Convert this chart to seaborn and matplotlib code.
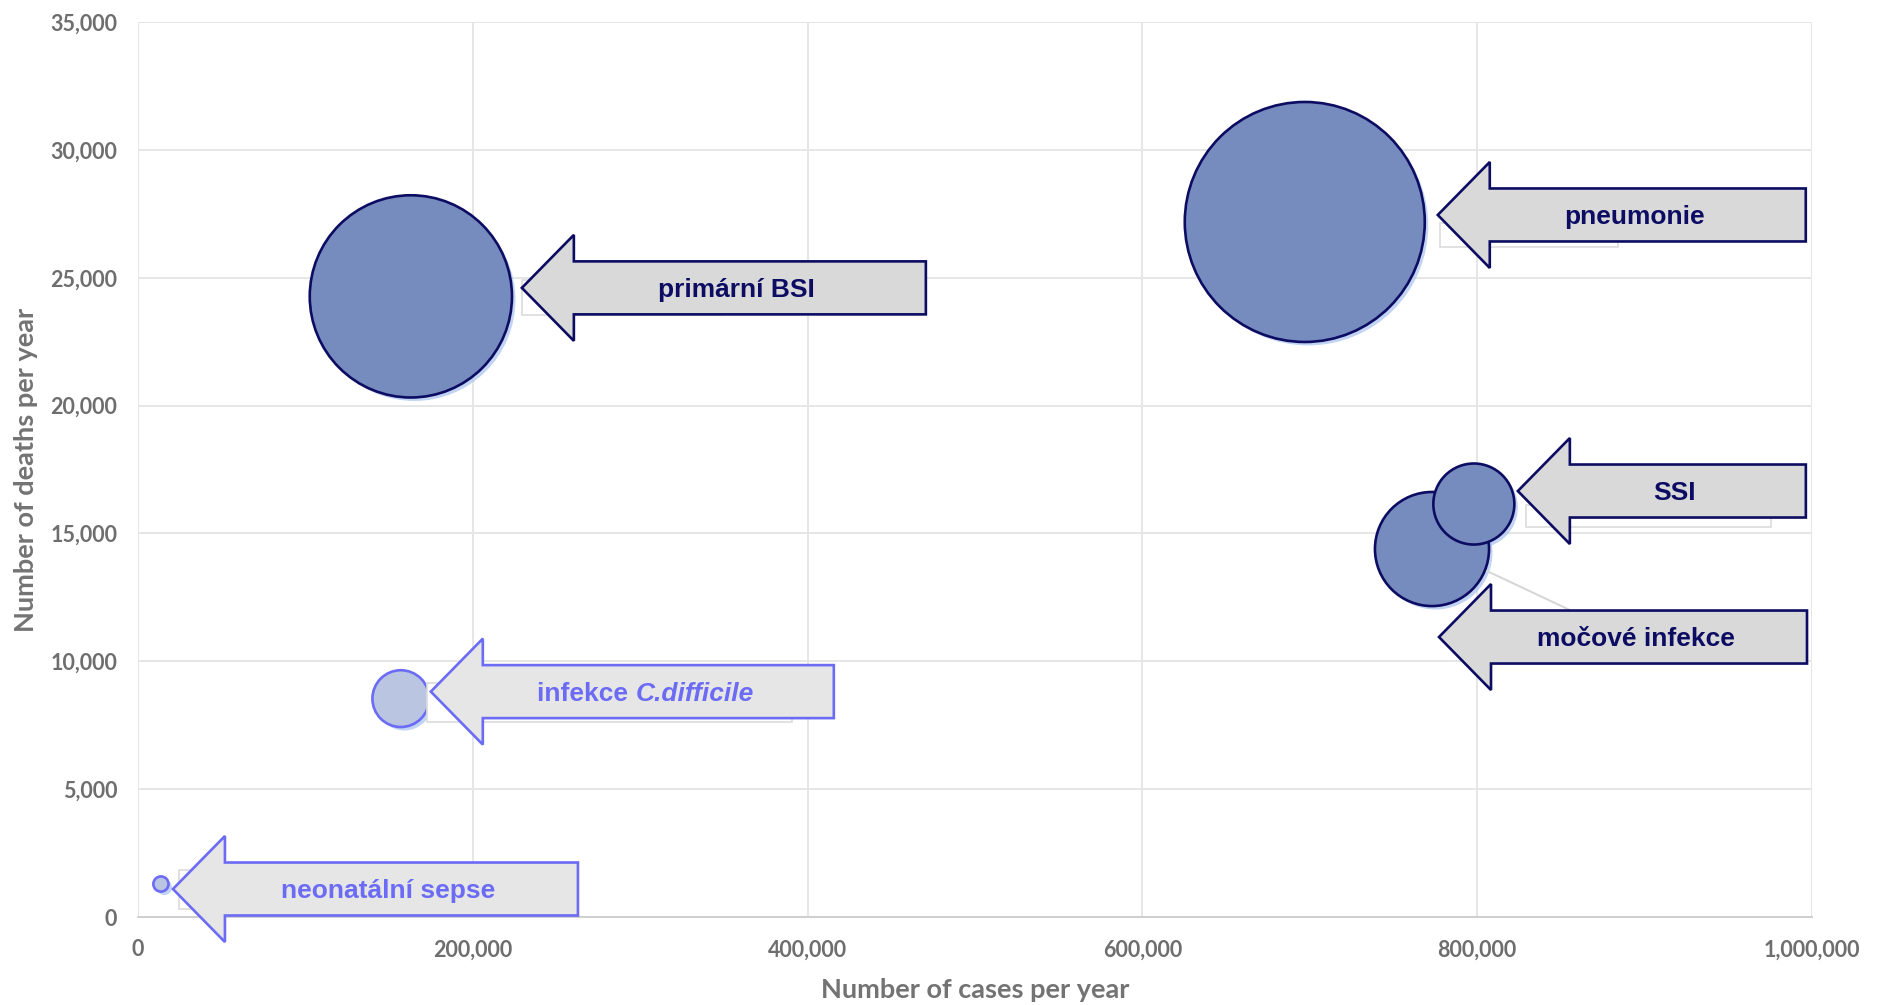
import matplotlib
matplotlib.use("Agg")
import matplotlib.pyplot as plt
import matplotlib.patheffects as pe
import numpy as np
import pandas as pd
import seaborn as sns
from matplotlib import font_manager
from matplotlib.lines import Line2D
from matplotlib.patches import Polygon, Rectangle
from matplotlib.ticker import FuncFormatter
from matplotlib.transforms import IdentityTransform

# ---- data -------------------------------------------------------------
infections = ["pneumonie", "primární BSI", "močové infekce", "SSI",
              "infekce C.difficile", "neonatální sepse"]
cases_per_year = [697000, 163000, 773000, 798000, 157000, 13700]
deaths_per_year = [27180, 24270, 14390, 16150, 8540, 1290]
burden = [100, 71, 22.6, 11.4, 5.6, 0.4]          # bubble area
tone = ["dark", "dark", "dark", "dark", "light", "light"]

x_ticks = [0, 200000, 400000, 600000, 800000, 1000000]
y_ticks = [0, 5000, 10000, 15000, 20000, 25000, 30000, 35000]

# ---- label arrows: tip offset from bubble centre (px, up positive) and length
arrow_dx = [133, 111, 7, 44, 30, 12]
arrow_dy = [7, 8.5, -88, 13, 7, -5]
arrow_len = [368, 404, 368, 288, 403, 405]
# faint default data-label frames left behind the arrows (px, relative to tip)
frame_box = [(2, -32, 178, 24), (0, -27, 200, 35), None,
             (8, -36, 245, 22), (-4, -30, 365, 39), (6, -20, 200, 39)]

df = pd.DataFrame({"infection": infections, "cases": cases_per_year,
                   "deaths": deaths_per_year, "burden": burden, "tone": tone})

# ---- style ------------------------------------------------------------
sns.set_theme(style="whitegrid")
names = {f.name for f in font_manager.fontManager.ttflist}
label_font = "Liberation Sans" if "Liberation Sans" in names else "DejaVu Sans"
axis_font = "Lato" if "Lato" in names else "DejaVu Sans"
plt.rcParams["font.family"] = [axis_font, "DejaVu Sans"]

palette = {
    "dark": dict(face="#778CBE", edge="#0C0C63", arrow="#D9D9D9", text="#0C0C63"),
    "light": dict(face="#BAC5E1", edge="#6B6BF5", arrow="#E6E6E6", text="#6B6BF5"),
}

W, H, DPI = 1878, 1005, 100
fig = plt.figure(figsize=(W / DPI, H / DPI), dpi=DPI)
ax = fig.add_axes([138 / W, 88 / H, 1674 / W, 895 / H])

S_MAX = (2 * 120 * 72 / DPI) ** 2
for key in ["dark", "light"]:
    sub = df[df["tone"] == key]
    sns.scatterplot(data=sub, x="cases", y="deaths", size="burden",
                    sizes=(0, S_MAX), size_norm=(0, 100), legend=False,
                    color=palette[key]["face"], edgecolor=palette[key]["edge"],
                    linewidth=1.9, alpha=1, ax=ax, zorder=3)

for coll in ax.collections:
    coll.set_path_effects([pe.SimplePatchShadow(offset=(2.5, -2.5),
                                                shadow_rgbFace="#A9C3EE",
                                                alpha=0.7), pe.Normal()])

ax.set_xlim(0, 1000000)
ax.set_ylim(0, 35000)
ax.set_xticks(x_ticks)
ax.set_yticks(y_ticks)
fmt = FuncFormatter(lambda v, p: f"{int(v):,}")
ax.xaxis.set_major_formatter(fmt)
ax.yaxis.set_major_formatter(fmt)
ax.tick_params(axis="both", length=0, labelsize=15.5, labelcolor="#6E6E6E")
ax.tick_params(axis="x", pad=16)
ax.tick_params(axis="y", pad=15)
for lab in ax.get_xticklabels() + ax.get_yticklabels():
    lab.set_fontweight("bold")
ax.grid(True, color="#E6E6E6", linewidth=1.4)
for side in ["top", "right", "left"]:
    ax.spines[side].set_visible(False)
ax.spines["bottom"].set_color("#CFCFCF")
ax.spines["bottom"].set_linewidth(1.4)
ax.set_xlabel("Number of cases per year", fontsize=19.5, fontweight="bold",
              color="#737373", labelpad=13)
ax.set_ylabel("Number of deaths per year", fontsize=19.5, fontweight="bold",
              color="#737373", labelpad=9)

# ---- arrow-shaped labels ------------------------------------------------
renderer = fig.canvas.get_renderer()
HEAD_L, HEAD_H, SHAFT_H = 52, 53, 26.5
for i, row in df.iterrows():
    colors = palette[row["tone"]]
    cx, cy = ax.transData.transform((row["cases"], row["deaths"]))
    tx, ty = cx + arrow_dx[i], cy + arrow_dy[i]
    L = arrow_len[i]

    if frame_box[i] is not None:
        fx, fy, fw, fh = frame_box[i]
        fig.add_artist(Rectangle((tx + fx, ty + fy), fw, fh,
                                 transform=IdentityTransform(), facecolor="white",
                                 edgecolor="#DCDCDC", linewidth=1.2, zorder=4))
    else:
        # leader line from the bubble towards its label
        fig.add_artist(Line2D([cx + 55, cx + 140], [cy - 22, cy - 62],
                              transform=IdentityTransform(), color="#D5D5D5",
                              linewidth=1.4, zorder=4))

    pts = [(tx, ty), (tx + HEAD_L, ty + HEAD_H), (tx + HEAD_L, ty + SHAFT_H),
           (tx + L, ty + SHAFT_H), (tx + L, ty - SHAFT_H),
           (tx + HEAD_L, ty - SHAFT_H), (tx + HEAD_L, ty - HEAD_H)]
    fig.add_artist(Polygon(pts, closed=True, transform=IdentityTransform(),
                           facecolor=colors["arrow"], edgecolor=colors["edge"],
                           linewidth=1.9, joinstyle="miter", zorder=5))
    xc = tx + HEAD_L + (L - HEAD_L) / 2 - 13
    yc = ty - 2
    name = row["infection"]
    kw = dict(transform=IdentityTransform(), fontsize=19, fontweight="bold",
              color=colors["text"], family=[label_font, "DejaVu Sans"],
              va="center", zorder=6)
    if "C.difficile" in name:
        head, tail = "infekce ", "C.difficile"
        t1 = fig.text(0, yc, head, ha="left", **kw)
        t2 = fig.text(0, yc, tail, ha="left", style="italic", **kw)
        w1 = t1.get_window_extent(renderer).width
        w2 = t2.get_window_extent(renderer).width
        x0 = xc - (w1 + w2) / 2
        t1.set_x(x0)
        t2.set_x(x0 + w1)
    else:
        fig.text(xc, yc, name, ha="center", **kw)

fig.savefig("out.png", dpi=DPI)
